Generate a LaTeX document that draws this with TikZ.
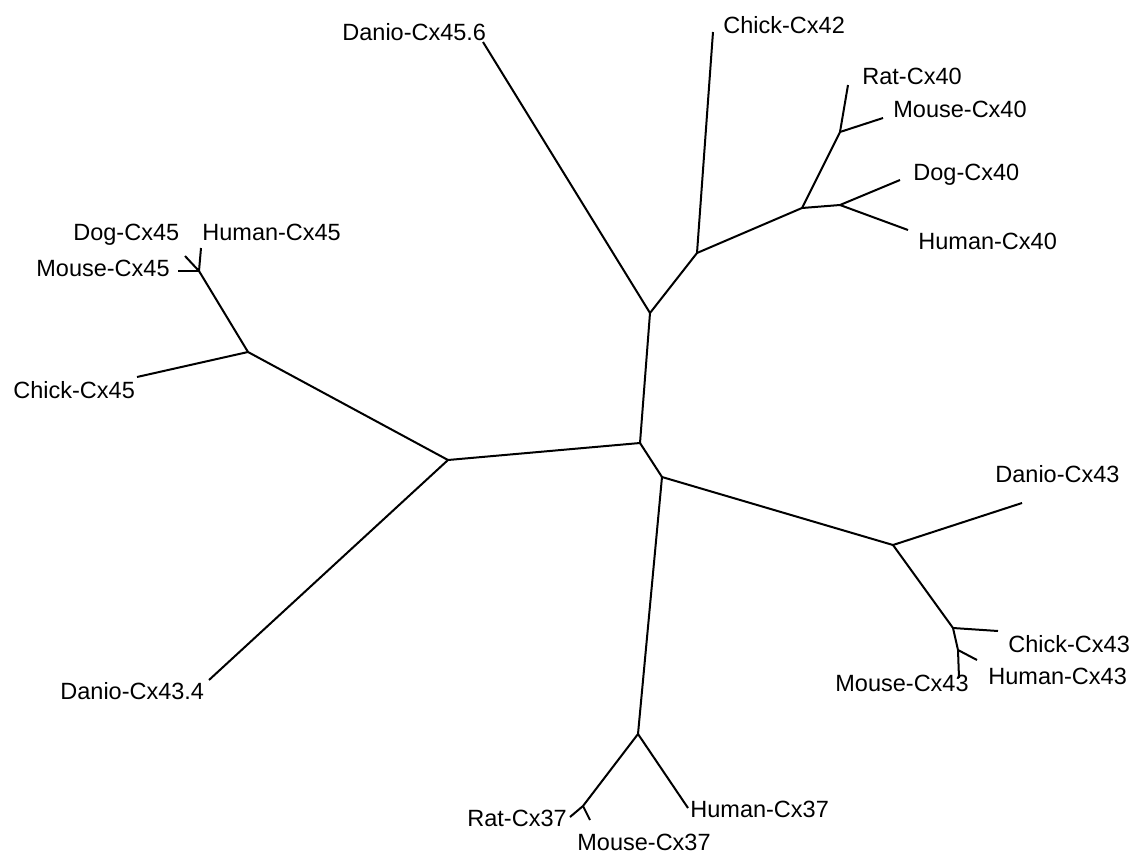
\documentclass[tikz,border=0pt]{standalone}
\usepackage{fontspec}
\setmainfont{Liberation Sans}
\begin{document}
\begin{tikzpicture}[x=0.5pt,y=-0.5pt,
  branch/.style={line width=1pt,black,line join=round},
  leaflabel/.style={anchor=base west,inner sep=0pt,font=\fontsize{11.75}{14}\selectfont}]
\useasboundingbox (0,0) rectangle (1136,857);
% junctions
\coordinate (c1) at (640,443);
\coordinate (ctop) at (650,313);
\coordinate (j42) at (697,253);
\coordinate (j40) at (802,208);
\coordinate (jrm40) at (840,132);
\coordinate (jdh40) at (840,205);
\coordinate (l1) at (448,460);
\coordinate (j45) at (248,352);
\coordinate (j45s) at (199,271);
\coordinate (c2) at (662,477);
\coordinate (r1) at (893,545);
\coordinate (j43) at (953,628);
\coordinate (j43b) at (958,650);
\coordinate (b37) at (638,734);
\coordinate (jrm37) at (583,806);
% leaves
\coordinate (l456) at (483,42);
\coordinate (l42) at (713,32);
\coordinate (lrat40) at (848,85);
\coordinate (lmouse40) at (883,118);
\coordinate (ldog40) at (900,180);
\coordinate (lhuman40) at (908,230);
\coordinate (l434) at (209,680);
\coordinate (lchick45) at (137,377);
\coordinate (lhuman45) at (201,248);
\coordinate (ldog45) at (185,256);
\coordinate (lmouse45) at (178,271);
\coordinate (ld43) at (1022,503);
\coordinate (lchick43) at (998,631);
\coordinate (lhuman43) at (977,660);
\coordinate (lmouse43) at (959,678);
\coordinate (lrat37) at (570,817);
\coordinate (lmouse37) at (590,820);
\coordinate (lhuman37) at (688,808);
% labels
\node[leaflabel] (t456) at (342,40) {Danio-Cx45.6};
\node[leaflabel] (t42) at (723,33) {Chick-Cx42};
\node[leaflabel] (trat40) at (862,84) {Rat-Cx40};
\node[leaflabel] (tmouse40) at (893,117) {Mouse-Cx40};
\node[leaflabel] (tdog40) at (913,180) {Dog-Cx40};
\node[leaflabel] (thuman40) at (918,249) {Human-Cx40};
\node[leaflabel] (tdog45) at (73,240) {Dog-Cx45};
\node[leaflabel] (thuman45) at (202,240) {Human-Cx45};
\node[leaflabel] (tmouse45) at (36,276) {Mouse-Cx45};
\node[leaflabel] (tchick45) at (13,398) {Chick-Cx45};
\node[leaflabel] (t434) at (60,699) {Danio-Cx43.4};
\node[leaflabel] (td43) at (995,482) {Danio-Cx43};
\node[leaflabel] (tchick43) at (1008,652) {Chick-Cx43};
\node[leaflabel] (thuman43) at (988,684) {Human-Cx43};
\node[leaflabel] (tmouse43) at (835,691) {Mouse-Cx43};
\node[leaflabel] (trat37) at (467,826) {Rat-Cx37};
\node[leaflabel] (tmouse37) at (577,850) {Mouse-Cx37};
\node[leaflabel] (thuman37) at (690,817) {Human-Cx37};
% branches
\draw[branch] (c1) -- (ctop) -- (l456);
\draw[branch] (ctop) -- (j42) -- (l42);
\draw[branch] (j42) -- (j40) -- (jrm40) -- (lrat40);
\draw[branch] (jrm40) -- (lmouse40);
\draw[branch] (j40) -- (jdh40) -- (ldog40);
\draw[branch] (jdh40) -- (lhuman40);
\draw[branch] (c1) -- (l1) -- (l434);
\draw[branch] (l1) -- (j45) -- (lchick45);
\draw[branch] (j45) -- (j45s) -- (lhuman45);
\draw[branch] (j45s) -- (ldog45);
\draw[branch] (j45s) -- (lmouse45);
\draw[branch] (c1) -- (c2) -- (r1) -- (ld43);
\draw[branch] (r1) -- (j43) -- (lchick43);
\draw[branch] (j43) -- (j43b) -- (lhuman43);
\draw[branch] (j43b) -- (lmouse43);
\draw[branch] (c2) -- (b37) -- (jrm37) -- (lrat37);
\draw[branch] (jrm37) -- (lmouse37);
\draw[branch] (b37) -- (lhuman37);
\end{tikzpicture}
\end{document}
